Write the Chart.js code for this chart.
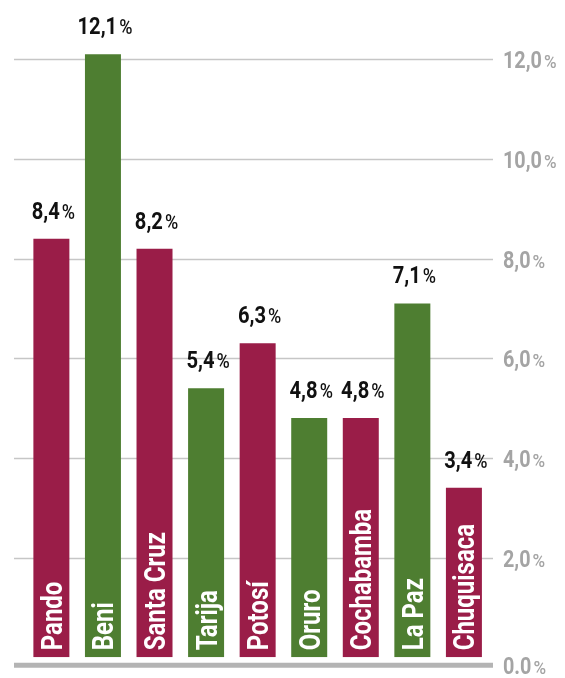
<!DOCTYPE html>
<html>
<head>
<meta charset="utf-8">
<script src="https://cdn.jsdelivr.net/npm/chart.js@4/dist/chart.umd.min.js"></script>
<style>
  html, body { margin: 0; padding: 0; background: #ffffff; }
  #wrap { position: relative; width: 565px; height: 678px; }
</style>
</head>
<body>
<div id="wrap"><canvas id="chart"></canvas></div>
<script>
// Departments and their rates (%)
const departments = ['Pando', 'Beni', 'Santa Cruz', 'Tarija', 'Potosí', 'Oruro', 'Cochabamba', 'La Paz', 'Chuquisaca'];
const rates = [8.4, 12.1, 8.2, 5.4, 6.3, 4.8, 4.8, 7.1, 3.4];

// Right-hand scale
const tickValues = [0, 2, 4, 6, 8, 10, 12];
const tickLabels = ['0.0', '2,0', '4,0', '6,0', '8,0', '10,0', '12,0'];

const CRIMSON = '#9a1d48';
const GREEN = '#4e7e31';
const barColors = departments.map((_, i) => (i % 2 === 0 ? CRIMSON : GREEN));

const GRID_LEFT = 14;
const GRID_RIGHT = 493;
const BASE_OFFSET = 8;   // thick base rule sits a little below the zero line

function formatRate(v) {
  return v.toFixed(1).replace('.', ',');
}

// draws "number" in a condensed bold face followed by a smaller "%"
function drawPercentText(ctx, num, x, baseline, opts) {
  ctx.save();
  ctx.textBaseline = 'alphabetic';
  ctx.textAlign = 'left';
  ctx.font = opts.numFont;
  const numW = ctx.measureText(num).width * opts.squeeze;
  ctx.font = opts.pctFont;
  const pctW = ctx.measureText('%').width * opts.pctSqueeze;
  const total = numW + opts.gap + pctW;
  const startX = opts.align === 'center' ? x - total / 2 : x;
  ctx.fillStyle = opts.color;
  ctx.save();
  ctx.translate(startX, baseline);
  ctx.scale(opts.squeeze, 1);
  ctx.font = opts.numFont;
  ctx.fillText(num, 0, 0);
  ctx.restore();
  ctx.save();
  ctx.translate(startX + numW + opts.gap, baseline);
  ctx.scale(opts.pctSqueeze, 1);
  ctx.font = opts.pctFont;
  ctx.fillText('%', 0, 0);
  ctx.restore();
  ctx.restore();
}

const gridPlugin = {
  id: 'gridAndScale',
  beforeDatasetsDraw(chart) {
    const ctx = chart.ctx;
    const y = chart.scales.y;
    ctx.save();
    ctx.strokeStyle = '#c6c6c6';
    ctx.lineWidth = 1.5;
    tickValues.forEach(v => {
      if (v === 0) return;
      const py = Math.round(y.getPixelForValue(v)) + 0.5;
      ctx.beginPath();
      ctx.moveTo(GRID_LEFT, py);
      ctx.lineTo(GRID_RIGHT, py);
      ctx.stroke();
    });
    // thick base rule
    const by = y.getPixelForValue(0) + BASE_OFFSET;
    ctx.strokeStyle = '#b4b4b4';
    ctx.lineWidth = 5;
    ctx.beginPath();
    ctx.moveTo(GRID_LEFT, by);
    ctx.lineTo(GRID_RIGHT, by);
    ctx.stroke();
    ctx.restore();

    // scale labels on the right
    tickValues.forEach((v, i) => {
      let py = y.getPixelForValue(v);
      if (v === 0) py += BASE_OFFSET;
      drawPercentText(ctx, tickLabels[i], 503, py + 9, {
        numFont: '700 23px Roboto, "DejaVu Sans", sans-serif',
        pctFont: '500 19px Roboto, "DejaVu Sans", sans-serif',
        squeeze: 0.86,
        pctSqueeze: 0.9,
        gap: 2,
        color: '#a4a4a4',
        align: 'left'
      });
    });
  }
};

const labelPlugin = {
  id: 'barLabels',
  afterDatasetsDraw(chart) {
    const ctx = chart.ctx;
    const meta = chart.getDatasetMeta(0);
    meta.data.forEach((bar, i) => {
      // value above the bar
      drawPercentText(ctx, formatRate(rates[i]), bar.x + 2, bar.y - 20, {
        numFont: '700 24px Roboto, "DejaVu Sans", sans-serif',
        pctFont: '500 20px Roboto, "DejaVu Sans", sans-serif',
        squeeze: 0.84,
        pctSqueeze: 0.9,
        gap: 2,
        color: '#111111',
        align: 'center'
      });
      // department name, written upward inside the bar
      ctx.save();
      ctx.translate(bar.x, bar.base - 7);
      ctx.rotate(-Math.PI / 2);
      ctx.scale(0.8, 1);
      ctx.font = '700 30px Roboto, "DejaVu Sans", sans-serif';
      ctx.fillStyle = '#ffffff';
      ctx.textAlign = 'left';
      ctx.textBaseline = 'alphabetic';
      ctx.fillText(departments[i], 0, 10.5);
      ctx.restore();
    });
  }
};

new Chart(document.getElementById('chart'), {
  type: 'bar',
  data: {
    labels: departments,
    datasets: [{
      data: rates,
      backgroundColor: barColors,
      borderWidth: 0,
      barPercentage: 0.698,
      categoryPercentage: 1.0
    }]
  },
  options: {
    responsive: true,
    maintainAspectRatio: false,
    animation: false,
    layout: { padding: { left: 25.6, right: 75.3, top: 0, bottom: 20.7 } },
    plugins: {
      legend: { display: false },
      tooltip: { enabled: false },
      title: { display: false }
    },
    scales: {
      x: { display: false, grid: { display: false } },
      y: { display: false, min: 0, max: 13.19, grid: { display: false } }
    }
  },
  plugins: [gridPlugin, labelPlugin]
});
</script>
</body>
</html>
